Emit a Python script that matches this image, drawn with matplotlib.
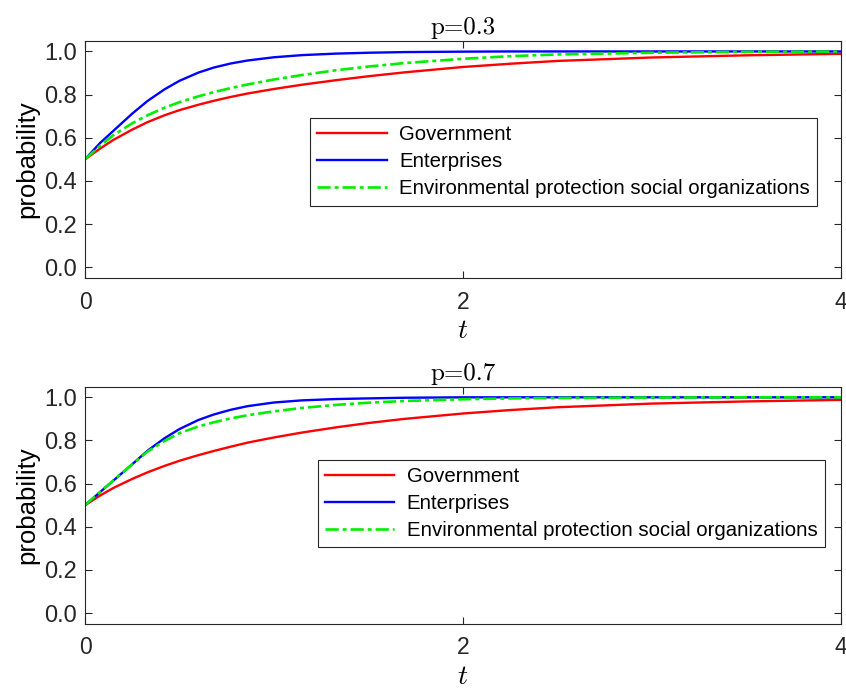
import matplotlib
matplotlib.use('Agg')
import matplotlib.pyplot as plt

# time points where the curves were read
t = [0, 0.08, 0.15, 0.25, 0.33, 0.42, 0.5, 0.6, 0.68, 0.77, 0.86, 1.0,
     1.15, 1.33, 1.5, 1.69, 2.0, 2.25, 2.5, 3.0, 3.5, 4.0]

# p = 0.3
gov_03 = [0.5, 0.55, 0.59, 0.638, 0.672, 0.704, 0.728, 0.753, 0.771, 0.789, 0.805, 0.826,
          0.846, 0.867, 0.885, 0.903, 0.928, 0.943, 0.956, 0.972, 0.982, 0.989]
ent_03 = [0.5, 0.576, 0.632, 0.712, 0.77, 0.824, 0.864, 0.902, 0.925, 0.944, 0.958, 0.973,
          0.983, 0.99, 0.994, 0.997, 0.999, 1.0, 1.0, 1.0, 1.0, 1.0]
eso_03 = [0.5, 0.563, 0.612, 0.667, 0.704, 0.739, 0.765, 0.792, 0.811, 0.83, 0.847, 0.87,
          0.891, 0.913, 0.93, 0.946, 0.966, 0.978, 0.986, 0.994, 0.998, 0.999]

# p = 0.7
gov_07 = [0.5, 0.545, 0.58, 0.622, 0.652, 0.682, 0.706, 0.732, 0.751, 0.771, 0.79, 0.814,
          0.837, 0.861, 0.881, 0.9, 0.925, 0.941, 0.954, 0.971, 0.981, 0.988]
ent_07 = [0.5, 0.561, 0.614, 0.69, 0.752, 0.81, 0.853, 0.895, 0.92, 0.942, 0.959, 0.976,
          0.986, 0.992, 0.995, 0.998, 1.0, 1.0, 1.0, 1.0, 1.0, 1.0]
eso_07 = [0.5, 0.562, 0.615, 0.69, 0.748, 0.797, 0.834, 0.865, 0.884, 0.902, 0.917, 0.935,
          0.951, 0.965, 0.975, 0.983, 0.991, 0.995, 0.997, 0.999, 1.0, 1.0]

titles = ['p=0.3', 'p=0.7']
labels = ['Government', 'Enterprises', 'Environmental protection social organizations']
yticks = [0.0, 0.2, 0.4, 0.6, 0.8, 1.0]
xticks = [0, 2, 4]

plt.rcParams['font.family'] = ['Liberation Sans', 'DejaVu Sans']
plt.rcParams['mathtext.fontset'] = 'cm'

fig = plt.figure(figsize=(8.46, 6.89), dpi=100)
ax1 = fig.add_axes([0.1005, 0.5965, 0.8935, 0.3445])
ax2 = fig.add_axes([0.1005, 0.0945, 0.8935, 0.3445])

data = [(gov_03, ent_03, eso_03), (gov_07, ent_07, eso_07)]
legpos = [(0.298, 0.305), (0.308, 0.322)]

for ax, (g, e, s), ttl, lp in zip([ax1, ax2], data, titles, legpos):
	ax.plot(t, g, color='#ff0000', lw=1.7, label=labels[0])
	ax.plot(t, e, color='#0000ff', lw=1.7, label=labels[1])
	ax.plot(t, s, color='#00ee00', lw=1.9, dashes=(5, 1.5, 1.5, 1.5), label=labels[2])
	ax.set_xlim(0, 4)
	ax.set_ylim(-0.05, 1.05)
	ax.set_xticks(xticks)
	ax.set_yticks(yticks)
	ax.set_yticklabels(['%.1f' % v for v in yticks], fontsize=17)
	ax.set_xticklabels([str(v) for v in xticks], fontsize=16.5)
	ax.tick_params(direction='in', top=True, right=True, length=5, width=0.8, colors='#262626')
	ax.tick_params(axis='y', pad=6)
	ax.tick_params(axis='x', pad=9)
	for sp in ax.spines.values():
		sp.set_color('#262626')
		sp.set_linewidth(0.8)
	ax.set_title(ttl, fontsize=18, family='cmr10', pad=5)
	ax.set_xlabel(r'$t$', fontsize=20, labelpad=3)
	ax.set_ylabel('probability', fontsize=18.5, labelpad=3)
	leg = ax.legend(loc='lower left', bbox_to_anchor=lp, fontsize=14.7, fancybox=False,
	                edgecolor='#262626', framealpha=1, handlelength=3.4, borderpad=0.35,
	                labelspacing=0.4, handletextpad=0.6, borderaxespad=0)
	leg.get_frame().set_linewidth(0.8)

plt.savefig('out.png', dpi=100)
